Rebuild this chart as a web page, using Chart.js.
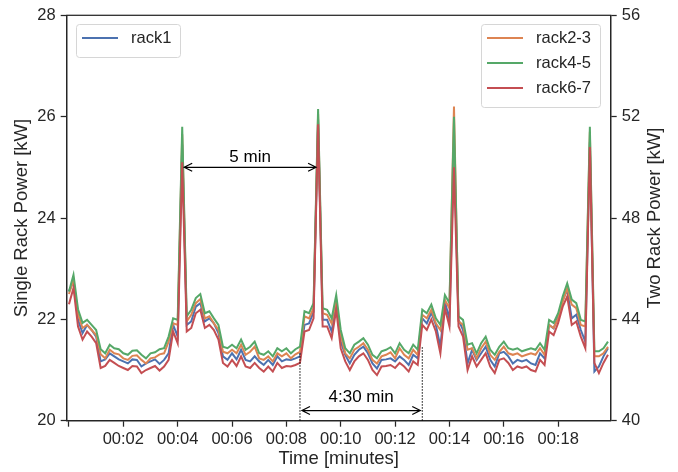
<!DOCTYPE html>
<html>
<head>
<meta charset="utf-8">
<script src="https://cdn.jsdelivr.net/npm/chart.js@4/dist/chart.umd.min.js"></script>
<style>
    html, body { margin: 0; padding: 0; background: #fff; }
    canvas { display: block; }
</style>
</head>
<body>
<canvas id="myChart" width="678" height="472"></canvas>
<script>
// one sample every 10 s, starting at 00:00
const sampleStep = 10;

// single rack [kW], left axis
const rack1 = [
    22.55, 22.75, 21.99, 21.73, 21.89, 21.79, 21.66, 21.17, 21.21, 21.33,
    21.27, 21.21, 21.17, 21.13, 21.21, 21.20, 21.07, 21.13, 21.17, 21.21,
    21.12, 21.20, 21.33, 21.89, 21.66, 25.45, 21.89, 21.96, 22.25, 22.32,
    21.96, 22.02, 21.92, 21.73, 21.27, 21.20, 21.33, 21.21, 21.40, 21.20,
    21.17, 21.27, 21.17, 21.10, 21.20, 21.10, 21.27, 21.17, 21.21, 21.20,
    21.23, 21.27, 21.89, 21.92, 22.15, 25.95, 21.99, 21.99, 21.76, 22.32,
    21.56, 21.30, 21.13, 21.30, 21.40, 21.46, 21.33, 21.13, 21.03, 21.20,
    21.21, 21.23, 21.17, 21.27, 21.20, 21.10, 21.30, 21.23, 22.02, 21.92,
    22.13, 21.89, 21.46, 22.35, 21.99, 25.50, 21.99, 21.79, 21.13, 21.40,
    21.20, 21.33, 21.46, 21.20, 21.07, 21.33, 21.36, 21.27, 21.13, 21.20,
    21.17, 21.20, 21.13, 21.10, 21.33, 21.23, 21.89, 21.82, 22.06, 22.38,
    22.58, 22.02, 22.09, 21.79, 21.56, 25.50, 20.97, 21.07, 21.27, 21.43,
];

// two racks [kW], right axis
const rack23 = [
    45.00, 45.56, 44.20, 43.66, 43.78, 43.58, 43.38, 42.62, 42.46, 42.80,
    42.66, 42.62, 42.46, 42.40, 42.56, 42.58, 42.40, 42.26, 42.46, 42.50,
    42.62, 42.66, 43.12, 43.84, 43.78, 51.30, 43.92, 44.18, 44.64, 44.80,
    44.04, 44.12, 43.84, 43.58, 42.72, 42.66, 42.80, 42.66, 43.00, 42.60,
    42.72, 42.92, 42.46, 42.40, 42.54, 42.34, 42.66, 42.54, 42.66, 42.46,
    42.62, 42.72, 44.12, 44.04, 44.44, 52.10, 44.24, 44.18, 43.84, 44.76,
    43.38, 42.66, 42.46, 42.80, 42.92, 43.06, 42.80, 42.40, 42.26, 42.54,
    42.60, 42.70, 42.46, 42.86, 42.60, 42.46, 42.80, 42.60, 44.18, 44.04,
    44.38, 43.84, 43.58, 44.76, 44.44, 52.40, 43.92, 43.78, 42.80, 42.86,
    42.46, 42.86, 43.12, 42.60, 42.40, 42.72, 42.92, 42.66, 42.60, 42.66,
    42.54, 42.60, 42.66, 42.60, 42.86, 42.60, 43.78, 43.66, 44.04, 44.70,
    45.22, 44.58, 44.44, 43.78, 43.72, 51.40, 42.54, 42.54, 42.66, 42.92,
];

const rack45 = [
    45.10, 45.76, 44.40, 43.86, 43.98, 43.78, 43.58, 42.82, 42.66, 43.00,
    42.86, 42.82, 42.66, 42.60, 42.76, 42.78, 42.60, 42.46, 42.66, 42.70,
    42.82, 42.86, 43.32, 44.04, 43.98, 51.60, 44.12, 44.38, 44.84, 45.00,
    44.24, 44.32, 44.04, 43.78, 42.92, 42.86, 43.00, 42.86, 43.20, 42.80,
    42.92, 43.12, 42.66, 42.60, 42.74, 42.54, 42.86, 42.74, 42.86, 42.66,
    42.82, 42.92, 44.32, 44.24, 44.64, 52.30, 44.44, 44.38, 44.04, 44.96,
    43.58, 42.86, 42.66, 43.00, 43.12, 43.26, 43.00, 42.60, 42.46, 42.74,
    42.80, 42.90, 42.66, 43.06, 42.80, 42.66, 43.00, 42.80, 44.38, 44.24,
    44.58, 44.04, 43.78, 44.96, 44.64, 52.00, 44.12, 43.98, 43.00, 43.06,
    42.66, 43.06, 43.32, 42.80, 42.60, 42.92, 43.12, 42.86, 42.80, 42.86,
    42.74, 42.80, 42.86, 42.80, 43.06, 42.80, 43.98, 43.86, 44.24, 44.90,
    45.42, 44.78, 44.64, 43.98, 43.92, 51.60, 42.74, 42.74, 42.86, 43.12,
];

const rack67 = [
    44.60, 45.24, 43.72, 43.20, 43.52, 43.32, 43.06, 42.08, 42.16, 42.40,
    42.28, 42.16, 42.08, 42.00, 42.16, 42.14, 41.88, 42.00, 42.08, 42.16,
    41.98, 42.14, 42.40, 43.52, 43.06, 50.20, 43.52, 43.66, 44.24, 44.38,
    43.66, 43.78, 43.58, 43.20, 42.28, 42.14, 42.40, 42.16, 42.54, 42.14,
    42.08, 42.28, 42.08, 41.94, 42.14, 41.94, 42.28, 42.08, 42.16, 42.14,
    42.20, 42.28, 43.52, 43.58, 44.04, 51.70, 43.72, 43.72, 43.26, 44.38,
    42.86, 42.34, 42.00, 42.34, 42.54, 42.66, 42.40, 42.00, 41.80, 42.14,
    42.16, 42.20, 42.08, 42.28, 42.14, 41.94, 42.34, 42.20, 43.78, 43.58,
    44.00, 43.52, 42.66, 44.44, 43.72, 50.00, 43.72, 43.32, 42.00, 42.54,
    42.14, 42.40, 42.66, 42.14, 41.88, 42.40, 42.46, 42.28, 42.00, 42.14,
    42.08, 42.14, 42.00, 41.94, 42.40, 42.20, 43.52, 43.38, 43.86, 44.50,
    44.90, 43.78, 43.92, 43.32, 42.86, 50.80, 42.28, 41.88, 42.28, 42.60,
];

// tick positions
const timeTicks = [0, 120, 240, 360, 480, 600, 720, 840, 960, 1080];
const leftTicks = [20, 22, 24, 26, 28];
const rightTicks = [40, 44, 48, 52, 56];

// annotations (x in seconds, y in single rack kW)
const spans = [
    { from: 250, to: 550, y: 25.0, text: "5 min", textY: 25.2 },
    { from: 510, to: 780, y: 20.2, text: "4:30 min", textY: 20.47 },
];
const guides = [
    { x: 510, top: 21.33 },
    { x: 780, top: 21.46 },
];

const seconds = rack1.map((v, i) => i * sampleStep);
const toPoints = (arr) => arr.map((v, i) => ({ x: seconds[i], y: v }));

const ink = "#262626";
const fontFamily = "'Liberation Sans', Arial, sans-serif";
Chart.defaults.font.family = fontFamily;
Chart.defaults.color = ink;

const frame = {
    id: "frame",
    afterDatasetsDraw: (chart) => {
        const { ctx, chartArea: a, scales } = chart;
        ctx.save();
        ctx.strokeStyle = ink;
        ctx.lineWidth = 1.25;
        ctx.strokeRect(a.left, a.top, a.right - a.left, a.bottom - a.top);

        // dotted guides
        ctx.setLineDash([1.5, 1.5]);
        ctx.lineWidth = 1;
        ctx.strokeStyle = "#000";
        guides.forEach((g) => {
            const x = scales.x.getPixelForValue(g.x);
            ctx.beginPath();
            ctx.moveTo(x, scales.y.getPixelForValue(20));
            ctx.lineTo(x, scales.y.getPixelForValue(g.top));
            ctx.stroke();
        });
        ctx.setLineDash([]);

        // double arrows
        ctx.lineWidth = 1.2;
        ctx.fillStyle = "#000";
        ctx.font = "17px " + fontFamily;
        ctx.textAlign = "center";
        ctx.textBaseline = "middle";
        spans.forEach((s) => {
            const x1 = scales.x.getPixelForValue(s.from) + 2;
            const x2 = scales.x.getPixelForValue(s.to) - 2;
            const y = scales.y.getPixelForValue(s.y);
            ctx.beginPath();
            ctx.moveTo(x1, y);
            ctx.lineTo(x2, y);
            ctx.moveTo(x1 + 8, y - 4);
            ctx.lineTo(x1, y);
            ctx.lineTo(x1 + 8, y + 4);
            ctx.moveTo(x2 - 8, y - 4);
            ctx.lineTo(x2, y);
            ctx.lineTo(x2 - 8, y + 4);
            ctx.stroke();
            ctx.fillText(s.text, (x1 + x2) / 2, scales.y.getPixelForValue(s.textY));
        });

        // right axis title, read bottom to top
        ctx.save();
        ctx.translate(655, (a.top + a.bottom) / 2);
        ctx.rotate(-Math.PI / 2);
        ctx.fillStyle = ink;
        ctx.font = "18.5px " + fontFamily;
        ctx.fillText("Two Rack Power [kW]", 0, 0);
        ctx.restore();
        ctx.restore();
    },
};

const legends = {
    id: "twoLegends",
    afterDraw: (chart) => {
        const { ctx } = chart;
        const sets = chart.data.datasets;
        const boxes = [
            { x: 76, y: 24, w: 104, items: [sets[0]] },
            { x: 481, y: 24, w: 119, items: [sets[1], sets[2], sets[3]] },
        ];
        ctx.save();
        ctx.font = "16.5px " + fontFamily;
        ctx.textBaseline = "middle";
        boxes.forEach((b) => {
            const h = 8 + b.items.length * 25;
            ctx.fillStyle = "rgba(255,255,255,0.8)";
            ctx.strokeStyle = "#d6d6d6";
            ctx.lineWidth = 1;
            ctx.beginPath();
            ctx.roundRect(b.x + 0.5, b.y + 0.5, b.w, h, 3);
            ctx.fill();
            ctx.stroke();
            b.items.forEach((ds, i) => {
                const y = b.y + 14 + i * 25;
                ctx.strokeStyle = ds.borderColor;
                ctx.lineWidth = 2;
                ctx.beginPath();
                ctx.moveTo(b.x + 6, y);
                ctx.lineTo(b.x + 42, y);
                ctx.stroke();
                ctx.fillStyle = ink;
                ctx.fillText(ds.label, b.x + 55, y);
            });
        });
        ctx.restore();
    },
};

const tickGrid = {
    drawOnChartArea: false,
    drawTicks: true,
    tickLength: 6,
    tickWidth: 1.25,
    tickColor: ink,
};

const line = (label, data, color, axis, order) => ({
    label: label,
    data: toPoints(data),
    borderColor: color,
    backgroundColor: color,
    borderWidth: 2,
    pointRadius: 0,
    tension: 0,
    yAxisID: axis,
    order: order,
});

new Chart(document.querySelector("#myChart"), {
    type: "line",
    data: {
        datasets: [
            line("rack1", rack1, "#4c72b0", "y", 4),
            line("rack2-3", rack23, "#dd8452", "y2", 3),
            line("rack4-5", rack45, "#55a868", "y2", 2),
            line("rack6-7", rack67, "#c44e52", "y2", 1),
        ],
    },
    options: {
        responsive: false,
        animation: false,
        events: [],
        layout: { padding: { top: 15.3, left: 0, right: 0, bottom: 0 } },
        plugins: { legend: false, tooltip: { enabled: false } },
        scales: {
            x: {
                type: "linear",
                min: -5,
                max: 1196,
                afterBuildTicks: (axis) => { axis.ticks = timeTicks.map((v) => ({ value: v })); },
                afterFit: (axis) => { axis.height = 51.3; },
                grid: tickGrid,
                border: { color: ink, width: 1.25 },
                ticks: {
                    padding: 3,
                    font: { size: 16.5 },
                    color: ink,
                    maxRotation: 0,
                    callback: (v) => (v === 0 ? "" : "00:" + String(Math.round(v / 60)).padStart(2, "0")),
                },
                title: {
                    display: true,
                    text: "Time [minutes]",
                    font: { size: 18.5 },
                    color: ink,
                    padding: { top: 0, bottom: 2 },
                },
            },
            y: {
                position: "left",
                min: 20,
                max: 28,
                afterBuildTicks: (axis) => { axis.ticks = leftTicks.map((v) => ({ value: v })); },
                afterFit: (axis) => { axis.width = 66.7; },
                grid: tickGrid,
                border: { color: ink, width: 1.25 },
                ticks: { padding: 5, font: { size: 16.5 }, color: ink },
                title: {
                    display: true,
                    text: "Single Rack Power [kW]",
                    font: { size: 18.5 },
                    color: ink,
                    padding: { top: 11, bottom: 0 },
                },
            },
            y2: {
                position: "right",
                min: 40,
                max: 56,
                afterBuildTicks: (axis) => { axis.ticks = rightTicks.map((v) => ({ value: v })); },
                afterFit: (axis) => { axis.width = 67.3; },
                grid: tickGrid,
                border: { color: ink, width: 1.25 },
                ticks: { padding: 5, font: { size: 16.5 }, color: ink },
            },
        },
    },
    plugins: [frame, legends],
});
</script>
</body>
</html>
